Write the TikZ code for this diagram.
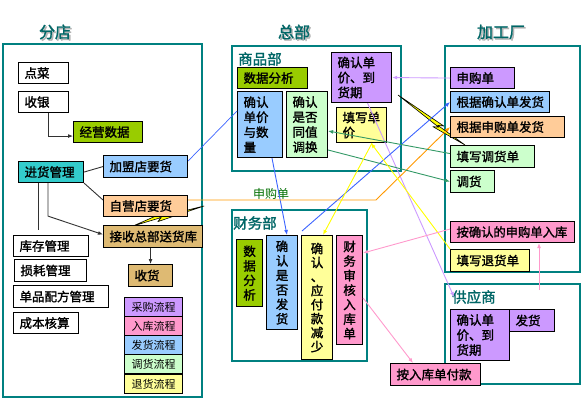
\documentclass[tikz,border=0pt]{standalone}
\usepackage{fontspec}
\setmainfont{Noto Sans CJK SC}[AutoFakeBold=1.6]
\usetikzlibrary{arrows.meta,calc}
\definecolor{panel}{RGB}{0,128,128}
\definecolor{ttl}{RGB}{0,102,102}
\definecolor{yg}{RGB}{153,204,0}
\definecolor{tealbox}{RGB}{51,204,204}
\definecolor{lblue}{RGB}{153,204,255}
\definecolor{peach}{RGB}{255,204,153}
\definecolor{tanc}{RGB}{222,186,115}
\definecolor{purp}{RGB}{204,153,255}
\definecolor{pinkc}{RGB}{255,153,204}
\definecolor{lgreen}{RGB}{204,255,204}
\definecolor{lyellow}{RGB}{255,255,153}
\definecolor{lnblue}{RGB}{60,100,255}
\definecolor{lngreen}{RGB}{51,153,102}
\definecolor{lnyellow}{RGB}{255,255,0}
\definecolor{lnorange}{RGB}{255,153,0}
\definecolor{lnpink}{RGB}{255,153,204}
\definecolor{lnpurple}{RGB}{204,153,255}
\definecolor{boltyellow}{RGB}{255,255,0}
\definecolor{lblgreen}{RGB}{0,110,0}
\definecolor{dk}{RGB}{50,50,50}
\newcommand\mybolt[2]{%
 \filldraw[fill=boltyellow, draw=black, line width=0.6pt, line join=round]
 (#1) -- ($(#1)!0.66!(#2)!2.5pt!90:(#2)$) -- ($(#1)!0.60!(#2)!0.5pt!-90:(#2)$) -- (#2)
 -- ($(#1)!0.56!(#2)!4.5pt!-90:(#2)$) -- ($(#1)!0.62!(#2)!1.5pt!-90:(#2)$) -- cycle;}
\begin{document}
\begin{tikzpicture}[x=1pt,y=-1pt,
  pnl/.style={draw=panel, line width=1.4pt},
  bx/.style={draw=black, line width=1.1pt, anchor=north west, inner xsep=6pt, inner ysep=0pt,
    font=\bfseries\fontsize{12.5}{15}\selectfont, align=left},
  vbx/.style={draw=black, line width=1.1pt, anchor=north west, inner sep=0pt,
    font=\bfseries\fontsize{12.5}{14.5}\selectfont, align=center},
  lgd/.style={draw=black, line width=1.1pt, anchor=north west, inner sep=0pt,
    font=\fontsize{11}{13}\selectfont, minimum width=58, minimum height=19},
  ttlf/.style={font=\bfseries\fontsize{16}{18}\selectfont},
  sub/.style={text=ttl, font=\bfseries\fontsize{14.5}{16}\selectfont, anchor=west, inner sep=0pt},
  cn/.style={line width=0.9pt},
  arr/.style={-{Latex[length=5pt,width=4pt]}}]
\useasboundingbox (0,0) rectangle (586,405);
% panels
\draw[pnl] (3,44) rectangle (202,397);
\draw[pnl] (232,46) rectangle (401,171);
\draw[pnl] (232,210) rectangle (367,361);
\draw[pnl] (445,46) rectangle (580,272);
\draw[pnl] (445,284) rectangle (580,384);
% titles
\node[ttlf, text=gray!60] (t1s) at (56.5,33.5) {分店};
\node[ttlf, text=ttl] (t1) at (55,32) {分店};
\node[ttlf, text=gray!60] (t2s) at (295.5,33.5) {总部};
\node[ttlf, text=ttl] (t2) at (294,32) {总部};
\node[ttlf, text=gray!60] (t3s) at (502.5,33.5) {加工厂};
\node[ttlf, text=ttl] (t3) at (501,32) {加工厂};
\node[sub] (spt) at (238,59) {商品部};
\node[sub] (cwt) at (233,223) {财务部};
\node[sub] (gyt) at (452,297) {供应商};
% lightning bolts
\coordinate (rbA) at (398,95);
\coordinate (rbB) at (465,145);
\coordinate (lbA) at (204,206);
\coordinate (lbB) at (133,226);
\mybolt{rbA}{rbB}
\mybolt{lbA}{lbB}
% left boxes
\node[bx, fill=white, minimum width=50, minimum height=21, text width=38] (dc) at (18,62) {点菜};
\node[bx, fill=white, minimum width=50, minimum height=21, text width=38] (sy) at (18,91) {收银};
\node[bx, fill=yg, minimum width=69, minimum height=21, text width=57] (jy) at (73,121) {经营数据};
\node[bx, fill=tealbox, minimum width=65, minimum height=21, text width=53] (jh) at (18,161) {进货管理};
\node[bx, fill=lblue, minimum width=84, minimum height=22, text width=72] (jm) at (103,155) {加盟店要货};
\node[bx, fill=peach, minimum width=84, minimum height=21, text width=72] (zy) at (103,195) {自营店要货};
\node[bx, fill=tanc, minimum width=99, minimum height=22, text width=87] (js) at (103,225) {接收总部送货库};
\node[bx, fill=tanc, minimum width=44, minimum height=22, text width=32] (shouhuo) at (128,264) {收货};
\node[bx, fill=white, minimum width=75, minimum height=21, text width=63] (kc) at (13,235) {库存管理};
\node[bx, fill=white, minimum width=72, minimum height=22, text width=60] (sunhao) at (14,259) {损耗管理};
\node[bx, fill=white, minimum width=95, minimum height=22, text width=83] (dp) at (13,285) {单品配方管理};
\node[bx, fill=white, minimum width=65, minimum height=21, text width=53] (cb) at (13,312) {成本核算};
% legend
\node[lgd, fill=purp] (lg1) at (124,297) {采购流程};
\node[lgd, fill=pinkc] (lg2) at (124,316) {入库流程};
\node[lgd, fill=lblue] (lg3) at (124,335) {发货流程};
\node[lgd, fill=lgreen] (lg4) at (124,354) {调货流程};
\node[lgd, fill=lyellow] (lg5) at (124,374) {退货流程};
% 商品部
\node[bx, fill=yg, minimum width=70, minimum height=21, text width=58] (sj) at (237,67) {数据分析};
\node[bx, fill=lblue, minimum width=45, minimum height=66, text width=33] (qr1) at (237,91) {确认\\单价\\与数\\量};
\node[bx, fill=lgreen, minimum width=41, minimum height=66, text width=29] (qr2) at (286,91) {确认\\是否\\同值\\调换};
\node[bx, fill=purp, minimum width=60, minimum height=50, text width=48] (qr3) at (331,52) {确认单\\价、到\\货期};
\node[bx, fill=lyellow, minimum width=50, minimum height=35, text width=38] (tx) at (336,107) {填写单\\价};
% 财务部
\node[vbx, fill=yg, minimum width=26, minimum height=67] (cs) at (236,239) {数\\据\\分\\析};
\node[vbx, fill=lblue, minimum width=31, minimum height=94] (cf) at (266,235) {确\\认\\是\\否\\发\\货};
\node[vbx, fill=lyellow, minimum width=31, minimum height=124, font=\bfseries\fontsize{12.5}{14}\selectfont] (cy) at (301,235) {确\\认\\、\\应\\付\\款\\减\\少};
\node[vbx, fill=pinkc, minimum width=26, minimum height=109] (cr) at (336,235) {财\\务\\审\\核\\入\\库\\单};
\node[bx, fill=pinkc, minimum width=90, minimum height=22, text width=78] (fk) at (390,363) {按入库单付款};
% 加工厂
\node[bx, fill=purp, minimum width=64, minimum height=21, text width=52] (sg) at (450,67) {申购单};
\node[bx, fill=lblue, minimum width=99, minimum height=21, text width=87] (gq) at (450,91) {根据确认单发货};
\node[bx, fill=peach, minimum width=114, minimum height=21, text width=102] (gs) at (450,116) {根据申购单发货};
\node[bx, fill=lgreen, minimum width=84, minimum height=22, text width=72] (tdh) at (450,145) {填写调货单};
\node[bx, fill=lgreen, minimum width=44, minimum height=22, text width=32] (dh) at (450,170) {调货};
\node[bx, fill=pinkc, minimum width=124, minimum height=21, text width=112, font=\bfseries\fontsize{12.3}{15}\selectfont] (aq) at (450,221) {按确认的申购单入库};
\node[bx, fill=lyellow, minimum width=79, minimum height=22, text width=67] (tth) at (450,249) {填写退货单};
% 供应商
\node[bx, fill=purp, minimum width=59, minimum height=51, text width=47] (gyq) at (450,309) {确认单\\价、到\\货期};
\node[bx, fill=purp, minimum width=45, minimum height=22, text width=33] (fh) at (509,309) {发货};
% label
\node[text=lblgreen, font=\fontsize{12}{14}\selectfont, inner sep=0pt] (sgl) at (271,194) {申购单};
% left connectors
\draw[dk, cn, arr] ($(sy.south west)+(30,0)$) |- ($(jy.west)+(0,4)$);
\draw[dk, cn] (jh.east) -- (jm.west);
\draw[dk, cn] (jh.south east) -- ($(zy.north west)+(0,5)$);
\draw[dk, cn] ($(jh.south west)+(20,0)$) -- ($(kc.north west)+(25,-5)$);
\draw[dk, cn, arr] ($(jh.south west)+(30,0)$) -- ++(0,33) -- ($(js.west)+(0,-2)$);
\draw[dk, cn, arr] (shouhuo.north |- js.south) -- (shouhuo.north);
% colored connectors
\draw[lnpurple, cn, arr] (sg.west) -- (qr3.east);
\draw[lnpurple, cn, arr] ($(qr3.south)+(6,0)$) -- ($(gyt.west)+(2,0)$);
\draw[lnblue, line width=0.7pt] ($(jm.north east)+(0,6)$) -- ($(qr1.north west)+(0,20)$);
\draw[lnblue, cn, arr] ($(qr1.south west)+(35,0)$) -- ($(cf.north west)+(21,0)$);
\draw[lnblue, cn, arr] ($(cy.north west)+(1,-4)$) -- (gq.west);
\coordinate (ocorner) at (376,200);
\draw[lnorange, cn, arr] ($(zy.north east)+(0,5)$) -- (ocorner) -- (gs.west);
\draw[lngreen, cn, arr] ($(tdh.west)+(0,-3)$) -- ($(qr2.north east)+(0,40)$);
\draw[lngreen, cn, arr] ($(qr2.north east)+(0,59)$) -- (dh.west);
\draw[lnyellow, cn, arr] (tth.north west) -- ($(tx.south west)+(35,0)$);
\draw[lnyellow, cn, arr] ($(tx.south west)+(36,0)$) -- ($(cy.north west)+(22,0)$);
\draw[lnpink, cn, arr] ($(aq.west)+(0,-3)$) -- ($(cr.north east)+(0,18)$);
\draw[lnpink, cn, arr] ($(cr.north east)+(0,63)$) -- ($(fk.north west)+(23,0)$);
\coordinate (gytop) at (539,290);
\draw[lnpink, cn, arr] (gytop) -- ($(aq.south west)+(89,0)$);
\end{tikzpicture}
\end{document}
